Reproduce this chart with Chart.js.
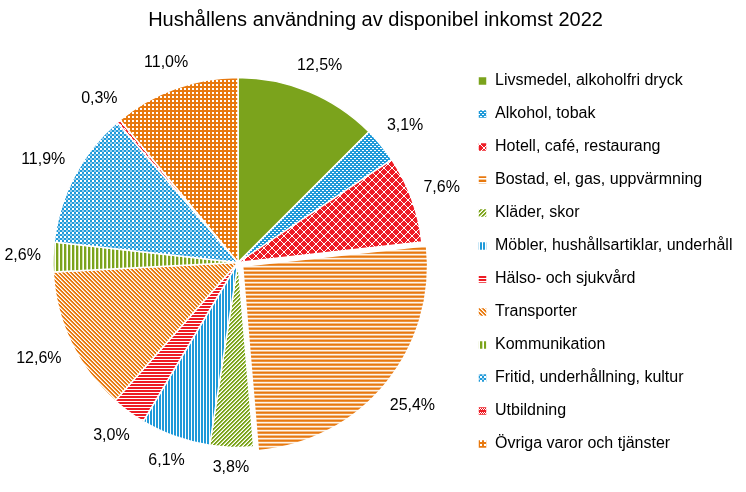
<!DOCTYPE html>
<html>
<head>
<meta charset="utf-8">
<script src="https://cdn.jsdelivr.net/npm/chart.js@4.4.1/dist/chart.umd.min.js"></script>
<style>
  html, body { margin: 0; padding: 0; background: #fff; }
</style>
</head>
<body>
<canvas id="chart" width="746" height="492"></canvas>
<script>
// ---- data ----
const categories = [
  'Livsmedel, alkoholfri dryck',
  'Alkohol, tobak',
  'Hotell, café, restaurang',
  'Bostad, el, gas, uppvärmning',
  'Kläder, skor',
  'Möbler, hushållsartiklar, underhåll',
  'Hälso- och sjukvård',
  'Transporter',
  'Kommunikation',
  'Fritid, underhållning, kultur',
  'Utbildning',
  'Övriga varor och tjänster'
];
const shares = [12.5, 3.1, 7.6, 25.4, 3.8, 6.1, 3.0, 12.6, 2.6, 11.9, 0.3, 11.0];
const titleText = 'Hushållens användning av disponibel inkomst 2022';

const FONT = '"Liberation Sans", Arial, sans-serif';
const GREEN = '#7ba31c', BLUE = '#1f9ad9', RED = '#ee1c25', ORANGE = '#e8790f';

// ---- fill patterns (Excel-like) ----
function pattern(color, w, h, paint){
  const c = document.createElement('canvas');
  c.width = w; c.height = h;
  const g = c.getContext('2d');
  g.fillStyle = color; g.fillRect(0, 0, w, h);
  g.fillStyle = '#fff';
  paint(g);
  return g.createPattern(c, 'repeat');
}

const fills = [
  GREEN,
  pattern(BLUE, 4, 4, g => { g.fillRect(0, 0, 2, 1); g.fillRect(2, 2, 2, 1); }),
  pattern(RED, 8, 8, g => { for(let i=0;i<8;i++){ g.fillRect(i, i, 1, 1); g.fillRect(7-i, i, 1, 1); } }),
  pattern(ORANGE, 1, 4, g => { g.fillRect(0, 2, 1, 1); g.fillStyle = '#f5c99c'; g.fillRect(0, 3, 1, 1); }),
  pattern(GREEN, 4, 4, g => {
    for(let x=0;x<4;x++) for(let y=0;y<4;y++){
      if((x+y)%4===0) g.fillRect(x, y, 1, 1);
    }
    g.fillStyle = '#cfe09c';
    for(let x=0;x<4;x++) for(let y=0;y<4;y++){
      if((x+y)%4===3) g.fillRect(x, y, 1, 1);
    }
  }),
  pattern(BLUE, 3, 1, g => { g.fillRect(2, 0, 1, 1); }),
  pattern(RED, 1, 3, g => { g.fillRect(0, 2, 1, 1); }),
  pattern(ORANGE, 4, 4, g => {
    for(let x=0;x<4;x++) for(let y=0;y<4;y++){
      if((x-y+4)%4===0) g.fillRect(x, y, 1, 1);
    }
    g.fillStyle = '#f6cda2';
    for(let x=0;x<4;x++) for(let y=0;y<4;y++){
      if((x-y+4)%4===1) g.fillRect(x, y, 1, 1);
    }
  }),
  pattern(GREEN, 4, 1, g => { g.fillRect(3, 0, 1, 1); g.fillStyle = '#d3e2a6'; g.fillRect(2, 0, 1, 1); }),
  pattern(BLUE, 4, 4, g => { g.fillRect(0, 0, 2, 2); g.fillStyle = '#93cdee'; g.fillRect(2, 2, 2, 2); }),
  pattern(RED, 4, 4, g => { g.fillRect(0, 0, 1, 1); g.fillRect(1, 1, 1, 1); g.fillRect(2, 0, 1, 1); g.fillRect(3, 1, 1, 1); }),
  pattern(ORANGE, 4, 4, g => { g.fillRect(0, 0, 2, 2); })
];

const explodedIndex = 3;
const fmt = v => v.toFixed(1).replace('.', ',') + '%';

// ---- percent labels outside the slices ----
const pctLabels = {
  id: 'pctLabels',
  afterDatasetsDraw(chart){
    const {ctx} = chart;
    const meta = chart.getDatasetMeta(0);
    ctx.save();
    ctx.font = '16px ' + FONT;
    ctx.fillStyle = '#000';
    ctx.textAlign = 'center';
    ctx.textBaseline = 'middle';
    meta.data.forEach((arc, i) => {
      const p = arc.getProps(['x','y','startAngle','endAngle','outerRadius'], true);
      const mid = (p.startAngle + p.endAngle) / 2;
      const txt = fmt(shares[i]);
      const hw = ctx.measureText(txt).width / 2;
      const shift = (arc.options.offset || 0) / 4;
      const d = p.outerRadius + shift + 12 + hw * Math.abs(Math.cos(mid)) + 8 * Math.abs(Math.sin(mid));
      ctx.fillText(txt, p.x + Math.cos(mid) * d, p.y + Math.sin(mid) * d);
    });
    ctx.restore();
  }
};

new Chart(document.getElementById('chart'), {
  type: 'pie',
  data: {
    labels: categories,
    datasets: [{
      data: shares,
      backgroundColor: fills,
      borderColor: '#fff',
      borderWidth: 1.5,
      radius: 185,
      offset: ctx => ctx.dataIndex === explodedIndex ? 24 : 0
    }]
  },
  options: {
    responsive: false,
    devicePixelRatio: 1,
    animation: false,
    events: [],
    layout: { padding: { left: 15, right: 10, top: 0, bottom: 9 } },
    plugins: {
      title: {
        display: true, text: titleText, color: '#000',
        font: { family: FONT, size: 20, weight: 'normal' },
        padding: { top: 8, bottom: 10 }
      },
      legend: {
        position: 'right',
        fullSize: false,
        maxWidth: 275,
        labels: {
          color: '#000', boxWidth: 9, boxHeight: 9, padding: 17,
          font: { family: FONT, size: 16 }
        }
      },
      tooltip: { enabled: false }
    }
  },
  plugins: [pctLabels]
});
</script>
</body>
</html>
